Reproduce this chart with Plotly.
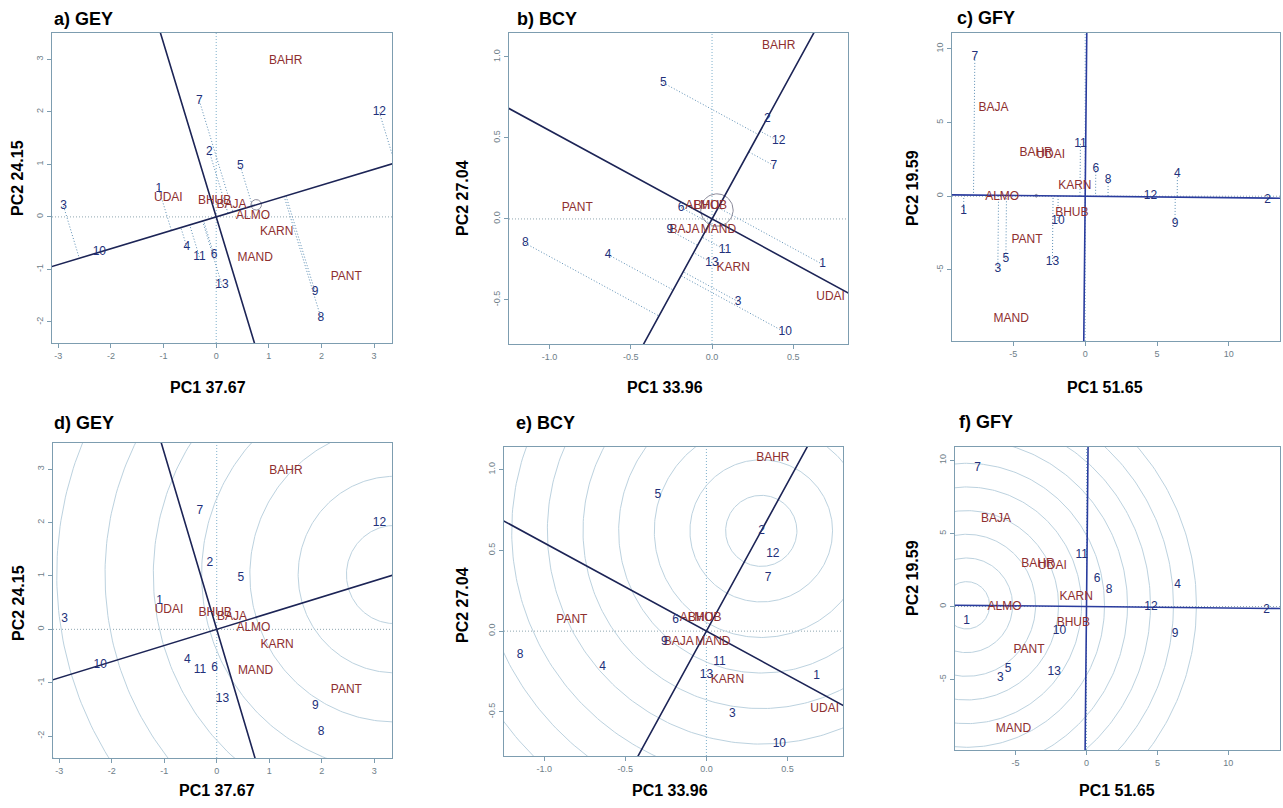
import numpy as np
import plotly.graph_objects as go

W, H = 1283, 808

# ---------------- data ----------------
genotypes = [str(i) for i in range(1, 14)]
environments = ["ALMO", "BAHR", "BAJA", "BHUB", "KARN", "MAND", "PANT", "UDAI"]

# GEY (panels a, d)
gey_gen_pc1 = [-1.09, -0.13, -2.90, -0.56, 0.46, -0.04, -0.32, 1.99, 1.88, -2.22, -0.32, 3.10, 0.11]
gey_gen_pc2 = [0.53, 1.24, 0.20, -0.57, 0.96, -0.73, 2.21, -1.92, -1.43, -0.67, -0.76, 1.99, -1.30]
gey_env_pc1 = [0.70, 1.32, 0.29, -0.03, 1.15, 0.74, 2.47, -0.91]
gey_env_pc2 = [0.02, 2.96, 0.23, 0.30, -0.29, -0.78, -1.14, 0.36]
gey_aec = [0.76, 0.23]
gey_ring_step = 0.92
gey_var = [37.67, 24.15]

# BCY (panels b, e)
bcy_gen_pc1 = [0.68, 0.34, 0.16, -0.64, -0.30, -0.19, 0.38, -1.15, -0.26, 0.45, 0.08, 0.41, 0.00]
bcy_gen_pc2 = [-0.28, 0.62, -0.51, -0.22, 0.84, 0.07, 0.33, -0.15, -0.07, -0.70, -0.19, 0.48, -0.27]
bcy_env_pc1 = [-0.06, 0.41, -0.17, -0.01, 0.13, 0.04, -0.83, 0.73]
bcy_env_pc2 = [0.08, 1.07, -0.07, 0.08, -0.30, -0.07, 0.07, -0.48]
bcy_aec = [0.03, 0.055]
bcy_ring_step = 0.22
bcy_var = [33.96, 27.04]

# GFY (panels c, f)
gfy_gen_pc1 = [-8.46, 12.70, -6.08, 6.42, -5.52, 0.74, -7.68, 1.60, 6.25, -1.90, -0.33, 4.55, -2.28]
gfy_gen_pc2 = [-1.00, -0.26, -4.92, 1.50, -4.28, 1.86, 9.45, 1.10, -1.88, -1.68, 3.55, -0.01, -4.46]
gfy_env_pc1 = [-5.78, -3.42, -6.38, -0.93, -0.72, -5.15, -4.05, -2.40]
gfy_env_pc2 = [-0.05, 2.94, 6.00, -1.16, 0.67, -8.36, -2.98, 2.78]
gfy_aec = [-3.4, 0.034]
gfy_ring_step = 1.62
gfy_var = [51.65, 19.59]

# ---------------- styling / layout ----------------
GEN_COL = "#22307a"
ENV_COL = "#8e2f2f"
AEC_COL = "#1c2456"
AXIS_COL = "#7d9db0"
TICK_COL = "#6e7e88"
PROJ_COL = "#5d8fb5"
RING_COL = "#bcd2df"
FONT = "Liberation Sans"
DOT = "1px,2px"

datasets = {
    "GEY": dict(gx=gey_gen_pc1, gy=gey_gen_pc2, ex=gey_env_pc1, ey=gey_env_pc2,
                aec=gey_aec, step=gey_ring_step, var=gey_var),
    "BCY": dict(gx=bcy_gen_pc1, gy=bcy_gen_pc2, ex=bcy_env_pc1, ey=bcy_env_pc2,
                aec=bcy_aec, step=bcy_ring_step, var=bcy_var),
    "GFY": dict(gx=gfy_gen_pc1, gy=gfy_gen_pc2, ex=gfy_env_pc1, ey=gfy_env_pc2,
                aec=gfy_aec, step=gfy_ring_step, var=gfy_var),
}

# panel: (letter, dataset, mode, box px [x0,x1,y0,y1], xrange, yrange, xticks, yticks, fmt,
#         title pos, pc1 label pos, pc2 label pos, line colour)
panels = [
    ("a", "GEY", "mean", [52, 392, 33, 343], [-3.12, 3.34], [-2.40, 3.50],
     [-3, -2, -1, 0, 1, 2, 3], [-2, -1, 0, 1, 2, 3], "d", (52, 19), (208, 387), (18, 178), AEC_COL),
    ("b", "BCY", "mean", [509, 848, 33, 344], [-1.25, 0.837], [-0.772, 1.148],
     [-1, -0.5, 0, 0.5], [-0.5, 0, 0.5, 1.0], ".1f", (515, 19), (665, 387), (462, 198), AEC_COL),
    ("c", "GFY", "mean", [952, 1280, 33, 341], [-9.27, 13.56], [-9.82, 11.07],
     [-5, 0, 5, 10], [-5, 0, 5, 10], "d", (955, 18), (1105, 387), (912, 188), "#2a3c9e"),
    ("d", "GEY", "rank", [53, 392, 443, 758], [-3.12, 3.34], [-2.41, 3.49],
     [-3, -2, -1, 0, 1, 2, 3], [-2, -1, 0, 1, 2, 3], "d", (52, 423), (217, 790), (18, 603), AEC_COL),
    ("e", "BCY", "rank", [504, 843, 447, 756], [-1.249, 0.843], [-0.773, 1.14],
     [-1, -0.5, 0, 0.5], [-0.5, 0, 0.5, 1.0], ".1f", (514, 423), (670, 790), (462, 605), AEC_COL),
    ("f", "GFY", "rank", [955, 1280, 447, 750], [-9.27, 13.64], [-9.82, 10.92],
     [-5, 0, 5, 10], [-5, 0, 5, 10], "d", (957, 422), (1117, 790), (912, 578), "#2a3c9e"),
]

fig = go.Figure()
annotations = []
layout_axes = {}

for i, (letter, key, mode, box, xr, yr, xt, yt, fmt, tpos, p1pos, p2pos, lcol) in enumerate(panels):
    d = datasets[key]
    n = i + 1
    xref = "x" if n == 1 else f"x{n}"
    yref = "y" if n == 1 else f"y{n}"
    xa = "xaxis" if n == 1 else f"xaxis{n}"
    ya = "yaxis" if n == 1 else f"yaxis{n}"

    gx = np.array(d["gx"]); gy = np.array(d["gy"])
    ex = np.array(d["ex"]); ey = np.array(d["ey"])
    aec = np.array(d["aec"])
    u = aec / np.linalg.norm(aec)
    v = np.array([-u[1], u[0]])
    L = 1000.0

    # reference dotted lines at zero
    fig.add_trace(go.Scatter(x=[xr[0], xr[1]], y=[0, 0], mode="lines",
                             line=dict(color="#8fa6b0", width=1, dash=DOT),
                             xaxis=xref, yaxis=yref, hoverinfo="skip"))
    fig.add_trace(go.Scatter(x=[0, 0], y=[yr[0], yr[1]], mode="lines",
                             line=dict(color="#7fb0cc", width=1, dash=DOT),
                             xaxis=xref, yaxis=yref, hoverinfo="skip"))

    if mode == "rank":
        proj = gx * u[0] + gy * u[1]
        c = u * proj.max()
        th = np.linspace(0, 2 * np.pi, 361)
        cx, cy = [], []
        for k in range(1, 11):
            r = k * d["step"]
            cx += list(c[0] + r * np.cos(th)) + [None]
            cy += list(c[1] + r * np.sin(th)) + [None]
        fig.add_trace(go.Scatter(x=cx, y=cy, mode="lines",
                                 line=dict(color=RING_COL, width=1),
                                 xaxis=xref, yaxis=yref, hoverinfo="skip"))
    else:
        proj = gx * u[0] + gy * u[1]
        px, py = [], []
        for j in range(len(gx)):
            px += [gx[j], proj[j] * u[0], None]
            py += [gy[j], proj[j] * u[1], None]
        fig.add_trace(go.Scatter(x=px, y=py, mode="lines",
                                 line=dict(color=PROJ_COL, width=1, dash=DOT),
                                 xaxis=xref, yaxis=yref, hoverinfo="skip"))
        th = np.linspace(0, 2 * np.pi, 73)
        fig.add_trace(go.Scatter(x=aec[0] + 0.1 * np.cos(th), y=aec[1] + 0.1 * np.sin(th),
                                 mode="lines", line=dict(color="#8a8a9a", width=1),
                                 xaxis=xref, yaxis=yref, hoverinfo="skip"))

    # AEC abscissa and ordinate
    fig.add_trace(go.Scatter(x=[-L * u[0], L * u[0]], y=[-L * u[1], L * u[1]], mode="lines",
                             line=dict(color=lcol, width=1.6),
                             xaxis=xref, yaxis=yref, hoverinfo="skip"))
    fig.add_trace(go.Scatter(x=[-L * v[0], L * v[0]], y=[-L * v[1], L * v[1]], mode="lines",
                             line=dict(color=lcol, width=1.6),
                             xaxis=xref, yaxis=yref, hoverinfo="skip"))

    # labels
    fig.add_trace(go.Scatter(x=ex, y=ey, mode="text", text=environments,
                             textposition="middle center",
                             textfont=dict(family=FONT, size=12, color=ENV_COL),
                             xaxis=xref, yaxis=yref, hoverinfo="skip"))
    fig.add_trace(go.Scatter(x=gx, y=gy, mode="text", text=genotypes,
                             textposition="middle center",
                             textfont=dict(family=FONT, size=12, color=GEN_COL),
                             xaxis=xref, yaxis=yref, hoverinfo="skip"))

    x0, x1, y0, y1 = box
    common = dict(showline=True, mirror=True, linecolor=AXIS_COL, linewidth=1,
                  ticks="outside", ticklen=4, tickcolor=AXIS_COL, showgrid=False,
                  zeroline=False, tickfont=dict(family=FONT, size=9, color=TICK_COL))
    fmt_fn = (lambda t: f"{t:.1f}") if fmt == ".1f" else (lambda t: f"{t:g}")
    layout_axes[xa] = dict(domain=[x0 / W, x1 / W], range=xr, anchor=yref,
                           tickvals=xt, ticktext=[fmt_fn(t) for t in xt], **common)
    layout_axes[ya] = dict(domain=[1 - y1 / H, 1 - y0 / H], range=yr, anchor=xref,
                           tickvals=yt, ticktext=[fmt_fn(t) for t in yt], tickangle=-90, **common)

    annotations.append(dict(text=f"<b>{letter}) {key}</b>", x=tpos[0] / W, y=1 - tpos[1] / H,
                            xref="paper", yref="paper", xanchor="left", yanchor="middle",
                            showarrow=False, font=dict(family=FONT, size=18, color="black")))
    annotations.append(dict(text=f"<b>PC1 {d['var'][0]:.2f}</b>", x=p1pos[0] / W, y=1 - p1pos[1] / H,
                            xref="paper", yref="paper", xanchor="center", yanchor="middle",
                            showarrow=False, font=dict(family=FONT, size=16, color="black")))
    annotations.append(dict(text=f"<b>PC2 {d['var'][1]:.2f}</b>", x=p2pos[0] / W, y=1 - p2pos[1] / H,
                            xref="paper", yref="paper", xanchor="center", yanchor="middle",
                            textangle=-90, showarrow=False,
                            font=dict(family=FONT, size=16, color="black")))

fig.update_layout(width=W, height=H, autosize=False, margin=dict(l=0, r=0, t=0, b=0),
                  paper_bgcolor="white", plot_bgcolor="white", showlegend=False,
                  annotations=annotations, **layout_axes)

fig.write_html("out.html", config={"displayModeBar": False},
               post_script="document.body.style.margin='0px';document.body.style.overflow='hidden';")
